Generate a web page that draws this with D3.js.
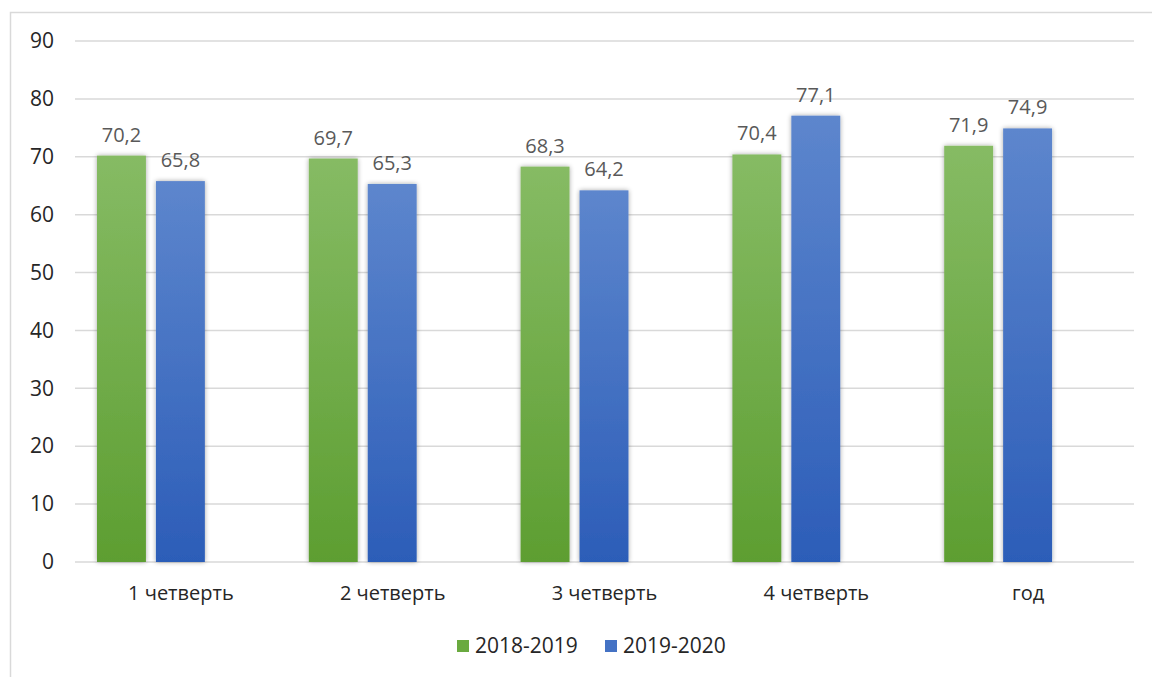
<!DOCTYPE html>
<html>
<head>
<meta charset="utf-8">
<script src="https://cdn.jsdelivr.net/npm/d3@7"></script>
<style>
  body { margin: 0; background: #fff; }
  text { font-family: "Open Sans", "DejaVu Sans", sans-serif; }
</style>
</head>
<body>
<div id="vis-container"></div>
<script>
    ////////////////////////////////////
    ///////////// Data /////////////////
    ////////////////////////////////////

    const categories = ['1 четверть', '2 четверть', '3 четверть', '4 четверть', 'год']
    const seriesNames = ['2018-2019', '2019-2020']
    const values2018 = [70.2, 69.7, 68.3, 70.4, 71.9]
    const values2019 = [65.8, 65.3, 64.2, 77.1, 74.9]
    const yTicks = [0, 10, 20, 30, 40, 50, 60, 70, 80, 90]

    const data = categories.map((c, i) => ({
        cat: c,
        vals: [
            { name: seriesNames[0], value: values2018[i] },
            { name: seriesNames[1], value: values2019[i] }
        ]
    }))

    ////////////////////////////////////
    ///////////// SVG Setup ////////////
    ////////////////////////////////////

    const svgWidth = 1152
    const svgHeight = 677

    const margin = { left: 75, right: 18, top: 41, bottom: 115 }
    const width = svgWidth - margin.left - margin.right
    const height = svgHeight - margin.top - margin.bottom

    const root = d3.select('#vis-container')
        .append('svg')
        .attr('width', svgWidth)
        .attr('height', svgHeight)

    // chart frame (runs off the right and bottom edge)
    root.append('rect')
        .attr('x', 10.5)
        .attr('y', 12.5)
        .attr('width', svgWidth + 20)
        .attr('height', svgHeight + 20)
        .attr('fill', 'none')
        .attr('stroke', '#d9d9d9')
        .attr('stroke-width', 1.5)

    const defs = root.append('defs')

    const grads = [
        { id: 'gGreen', top: '#86bb64', bottom: '#5d9e31' },
        { id: 'gBlue', top: '#5d86cd', bottom: '#2c5db8' }
    ]
    grads.forEach(g => {
        const lg = defs.append('linearGradient')
            .attr('id', g.id)
            .attr('x1', 0).attr('y1', 0).attr('x2', 0).attr('y2', 1)
        lg.append('stop').attr('offset', '0%').attr('stop-color', g.top)
        lg.append('stop').attr('offset', '100%').attr('stop-color', g.bottom)
    })

    const shadow = defs.append('filter')
        .attr('id', 'shadow')
        .attr('x', '-30%').attr('y', '-10%')
        .attr('width', '160%').attr('height', '120%')
    shadow.append('feGaussianBlur')
        .attr('in', 'SourceAlpha')
        .attr('stdDeviation', 2.5)
    shadow.append('feComponentTransfer')
        .append('feFuncA').attr('type', 'linear').attr('slope', 0.35)
    const merge = shadow.append('feMerge')
    merge.append('feMergeNode')
    merge.append('feMergeNode').attr('in', 'SourceGraphic')

    const svg = root.append('g')
        .attr('transform', `translate(${margin.left},${margin.top})`)

    ////////////////////////////////////
    /////////////// Scales /////////////
    ////////////////////////////////////

    const yScale = d3.scaleLinear()
        .domain([0, 90])
        .range([height, 0])

    const x0 = d3.scaleBand()
        .domain(categories)
        .range([0, width])

    // third slot is an empty series, the way the source chart is laid out
    const x1 = d3.scaleBand()
        .domain([...seriesNames, ''])
        .range([22, x0.bandwidth() - 23])
        .paddingInner(0.17)

    const colorScale = d3.scaleOrdinal()
        .domain(seriesNames)
        .range(['url(#gGreen)', 'url(#gBlue)'])

    const legendColor = d3.scaleOrdinal()
        .domain(seriesNames)
        .range(['#6aaa3f', '#4472c4'])

    ////////////////////////////////////
    ////////////// Axis ////////////////
    ////////////////////////////////////

    svg.append('g')
        .selectAll('line')
        .data(yTicks)
        .join('line')
        .attr('x1', 0)
        .attr('x2', width)
        .attr('y1', d => yScale(d))
        .attr('y2', d => yScale(d))
        .attr('stroke', '#d9d9d9')
        .attr('stroke-width', 1.5)

    const yAxis = d3.axisLeft(yScale).tickValues(yTicks).tickSize(0).tickPadding(21)
    svg.append('g')
        .call(yAxis)
        .call(g => g.select('.domain').remove())
        .selectAll('text')
        .attr('font-size', 21)
        .attr('fill', '#262626')
        .style('font-family', '"Open Sans", sans-serif')

    const xAxis = d3.axisBottom(x0).tickSize(0).tickPadding(24)
    svg.append('g')
        .attr('transform', `translate(0,${height})`)
        .call(xAxis)
        .call(g => g.select('.domain').remove())
        .selectAll('text')
        .attr('font-size', 20)
        .attr('fill', '#262626')
        .style('font-family', '"Open Sans", sans-serif')

    ////////////////////////////////////
    ///////////// Add Items ////////////
    ////////////////////////////////////

    const groups = svg.selectAll('.grp')
        .data(data)
        .join('g')
        .attr('class', 'grp')
        .attr('transform', d => `translate(${x0(d.cat)},0)`)

    groups.selectAll('rect')
        .data(d => d.vals)
        .join('rect')
        .attr('x', d => x1(d.name))
        .attr('y', d => yScale(d.value))
        .attr('width', x1.bandwidth())
        .attr('height', d => height - yScale(d.value))
        .attr('fill', d => colorScale(d.name))
        .attr('filter', 'url(#shadow)')

    groups.selectAll('.val')
        .data(d => d.vals)
        .join('text')
        .attr('class', 'val')
        .attr('x', d => x1(d.name) + x1.bandwidth() / 2)
        .attr('y', d => yScale(d.value) - 14)
        .attr('text-anchor', 'middle')
        .attr('font-size', 20)
        .attr('fill', '#595959')
        .text(d => d3.format('.1f')(d.value).replace('.', ','))

    ////////////////////////////////////
    ///////////// Legend ///////////////
    ////////////////////////////////////

    const legend = root.append('g')
        .attr('transform', 'translate(457,646)')

    const legItems = legend.selectAll('g')
        .data(seriesNames)
        .join('g')
        .attr('transform', (d, i) => `translate(${i * 148},0)`)

    legItems.append('rect')
        .attr('x', 0)
        .attr('y', -6)
        .attr('width', 12)
        .attr('height', 12)
        .attr('fill', d => legendColor(d))

    legItems.append('text')
        .attr('x', 18)
        .attr('y', 0)
        .attr('dy', '0.35em')
        .attr('font-size', 21)
        .attr('fill', '#262626')
        .text(d => d)
</script>
</body>
</html>
